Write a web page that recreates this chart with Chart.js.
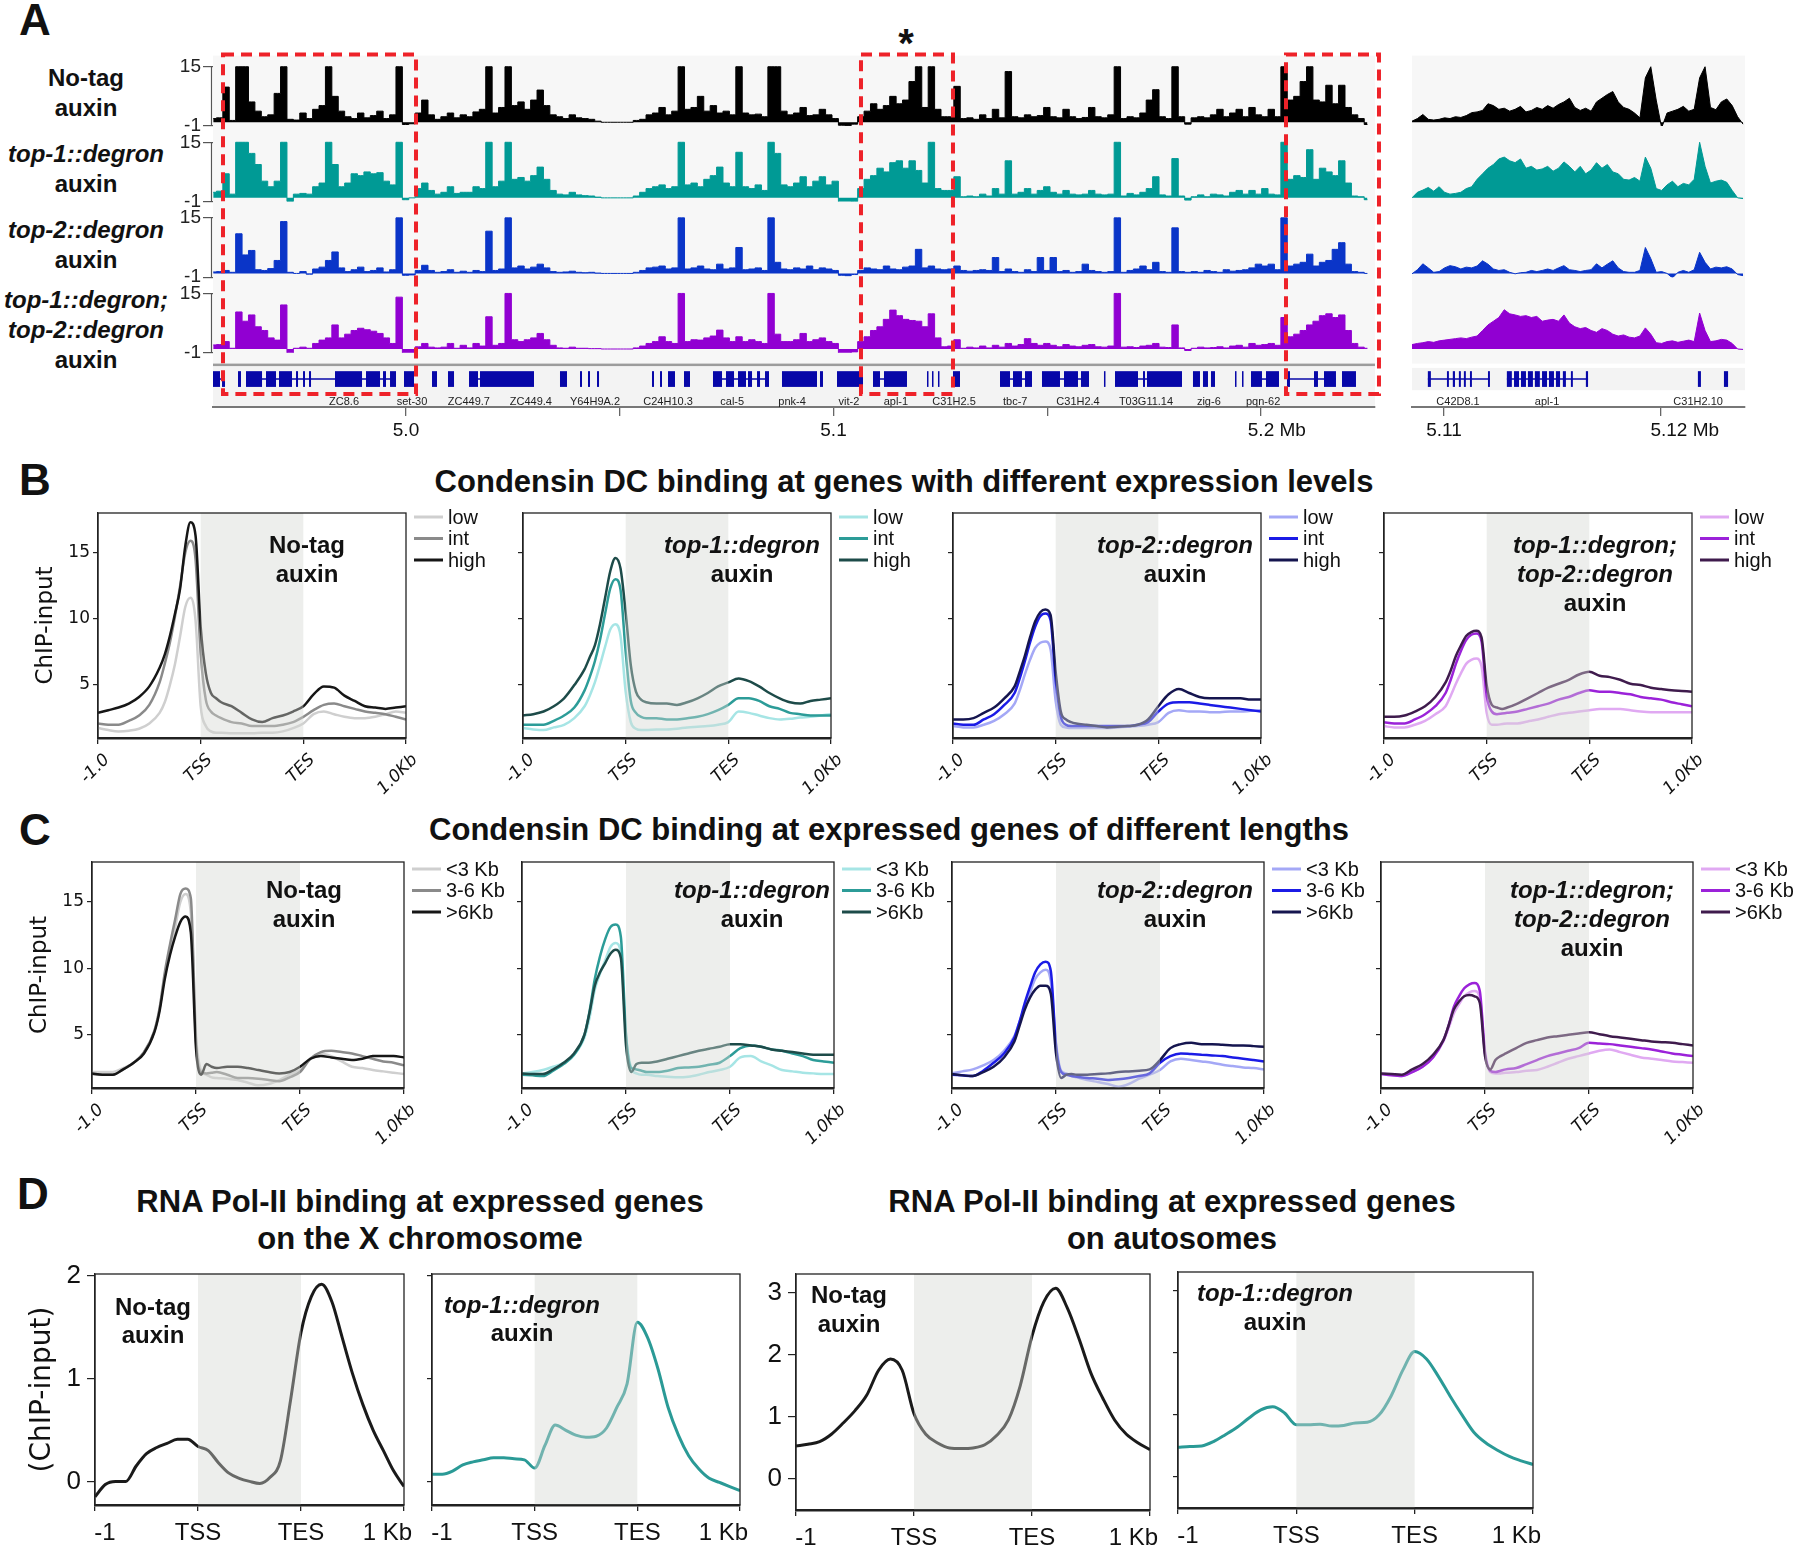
<!DOCTYPE html>
<html>
<head>
<meta charset="utf-8">
<title>Condensin DC and Pol-II profiles</title>
<script src="https://cdn.jsdelivr.net/npm/chart.js@4.4.1/dist/chart.umd.min.js"></script>
<style>
  body { margin: 0; width: 1800px; height: 1545px; position: relative; overflow: hidden; background: #fff;
         font-family: 'Liberation Sans', Arial, sans-serif; color: #111; }
  .panel { position: absolute; font-weight: bold; font-size: 44px; line-height: 44px; }
  .title { position: absolute; font-weight: bold; font-size: 31px; line-height: 37px; text-align: center;
           white-space: nowrap; transform: translateX(-50%); }
  .track { position: absolute; left: 0; width: 172px; text-align: center; font-weight: bold; font-size: 24px;
           line-height: 30px; white-space: nowrap; }
</style>
</head>
<body>
<div class="panel" style="left:19px;top:-2px">A</div>
<div class="panel" style="left:19px;top:458px">B</div>
<div class="panel" style="left:19px;top:808px">C</div>
<div class="panel" style="left:17px;top:1172px">D</div>
<div class="title" style="left:906px;top:23px;font-size:40px;line-height:40px">*</div>

<div class="track" style="top:63px">No-tag<br>auxin</div>
<div class="track" style="top:139px"><i>top-1::degron</i><br>auxin</div>
<div class="track" style="top:215px"><i>top-2::degron</i><br>auxin</div>
<div class="track" style="top:285px"><i>top-1::degron;</i><br><i>top-2::degron</i><br>auxin</div>

<div class="title" style="left:904px;top:463px">Condensin DC binding at genes with different expression levels</div>
<div class="title" style="left:889px;top:811px">Condensin DC binding at expressed genes of different lengths</div>
<div class="title" style="left:420px;top:1183px">RNA Pol-II binding at expressed genes<br>on the X chromosome</div>
<div class="title" style="left:1172px;top:1183px">RNA Pol-II binding at expressed genes<br>on autosomes</div>

<script>
// ==== Panel A: ChIP-seq tracks, one value per bin (Mb) ====
const trackStart = 4.9549;
const trackBin = 0.0015;
const trackTicks = [-1, 15];

const noTagTrack = [1.0,1.2,9.5,0.5,15,15,5.5,3.0,1.5,2.0, 7.8,15,0.8,0.6,2.5,1.0,3.5,4.5,15,7.0,
  3.0,1.5,1.0,2.5,1.2,1.8,3.0,1.0,2.0,15, -0.6,-0.4,2.5,6.0,2.0,0.8,1.5,2.5,1.2,2.0,
  1.5,2.8,3.5,15,2.5,4.0,15,4.5,5.5,3.5, 6.0,8.7,4.5,2.0,1.5,1.0,2.0,1.2,1.0,0.8,
  0.3,0,0,0,0,0,0.5,0.8,2.0,2.5, 4.0,2.0,3.0,15,3.5,4.0,7.0,3.0,4.5,2.5,
  3.0,2.0,15,2.5,2.0,2.2,1.5,15,15,3.0, 2.0,2.5,4.0,1.8,2.0,3.5,2.0,1.0,-0.8,-0.9,
  -0.5,1.5,3.0,5.0,3.5,4.5,7.0,5.0,6.0,11.0, 15,4.0,15,3.5,1.5,1.5,9.7,1.0,1.2,0.8,
  2.0,1.0,3.5,1.2,13.7,1.5,1.2,2.0,1.5,1.8, 4.0,1.5,1.2,3.5,1.5,1.0,1.3,4.0,1.5,1.2,
  2.0,15,1.0,1.5,1.2,2.5,6.0,8.8,1.5,1.0, 15,1.5,-0.5,1.2,1.5,1.2,2.0,3.5,1.5,2.5,
  3.5,1.5,4.0,2.0,1.5,3.5,1.5,15,6.0,7.0, 11.0,15,6.0,5.5,10.0,5.0,10.0,4.0,2.0,1.0,-0.6];
const top1Track = [1.5,1.8,6.5,1.0,15,15,12,9.0,4.5,3.0, 4.5,15,-1.0,1.0,1.2,1.0,3.0,4.0,15,9.0,
  3.0,4.0,6.5,6.0,7.0,6.5,6.8,4.5,3.5,15, -0.5,0.0,2.5,4.0,2.0,1.0,1.5,3.0,1.2,1.5,
  1.5,3.0,2.5,15,3.0,4.5,15,5.0,5.5,4.5, 6.0,8.3,5.0,2.0,1.0,0.8,1.5,0.8,0.6,0.5,
  0.2,0,0,0,0,0,0.5,1.5,2.5,3.0, 3.5,2.5,3.0,15,3.5,4.0,3.0,5.0,6.0,8.3,
  4.0,3.0,12.3,3.0,2.5,3.5,2.0,15,12,3.5, 3.0,4.0,5.7,3.0,4.5,5.7,3.5,4.5,-1.5,-1.8,
  -1.0,2.5,5.0,6.0,8.0,7.0,9.5,10.0,8.0,10.0, 7.4,4.0,15,2.5,2.0,2.0,5.7,0.3,0.5,0.3,
  1.0,0.5,2.5,1.0,10.0,1.0,1.5,2.5,1.0,2.0, 3.0,1.5,1.0,2.0,1.0,0.8,1.0,2.0,1.0,0.8,
  1.0,15,0.5,1.2,0.8,1.5,2.5,5.7,0.8,0.5, 10.6,0.5,-0.6,0.3,0.8,0.3,1.0,0.8,0.5,1.5,
  2.0,1.0,2.0,1.0,2.5,1.0,0.8,15,5.0,6.0, 5.5,13.0,5.0,8.0,7.0,6.0,10.0,4.0,0.5,0.3,-0.5];
const top2Track = [0.4,0.5,0.8,0.3,10.7,5.0,6.2,1.0,0.8,1.3, 3.5,14.0,0.3,0.0,0.5,-0.2,1.2,1.7,3.5,5.8,
  1.5,0.5,1.0,1.7,0.5,0.8,1.5,0.4,1.0,15, -0.5,-0.4,0.8,2.2,0.8,0.3,0.5,1.0,0.3,0.6,
  0.3,0.8,0.5,11.4,0.8,1.2,15,1.5,2.0,1.2, 1.7,2.5,1.5,0.5,0.3,0.4,0.6,0.3,0.2,0.3,
  0.1,0,0,0,0,0,0.3,0.8,1.5,1.7, 2.0,1.2,1.5,15,1.2,1.5,2.0,1.2,1.0,2.5,
  1.2,1.5,7.0,1.0,1.2,1.5,0.8,15,3.0,1.2, 1.0,1.5,1.2,2.0,1.0,1.5,1.2,0.8,-0.5,-0.6,
  -0.3,0.8,1.5,1.2,1.0,2.0,1.2,1.0,1.7,2.0, 6.5,1.5,2.0,1.2,1.0,1.2,2.0,0.8,0.6,0.8,
  1.0,0.8,4.3,0.5,1.2,0.5,0.3,1.0,0.5,4.3, 0.8,4.3,0.5,0.8,0.3,0.5,2.5,0.8,0.5,0.3,
  0.5,15,0.3,0.8,1.2,2.0,1.0,3.0,0.5,0.3, 12.3,0.5,0.3,0.5,0.3,0.8,0.5,0.3,1.0,0.6,
  0.8,1.0,1.5,2.5,2.0,2.5,1.0,15,2.0,2.5, 3.0,5.2,2.0,3.0,3.5,6.5,8.3,2.5,0.5,0.3,0.0];
const doubleTrack = [1.1,1.2,2.0,0.2,10.0,7.5,9.2,6.0,5.0,3.0, 2.4,11.9,-1.5,0.2,0.5,0.2,1.5,2.4,3.0,6.5,
  3.0,4.0,5.0,5.6,5.2,4.8,4.2,3.0,1.5,14.0, -1.5,-1.2,0.6,1.5,0.5,0.3,0.5,1.5,0.2,1.0,
  0.3,1.5,0.8,8.7,1.0,1.5,15,2.5,2.0,2.5, 3.0,4.2,2.5,1.0,0.3,0.2,0.5,0.2,0.2,0.1,
  0.1,0,0,0,0,0,0.3,0.8,1.5,2.0, 3.3,2.0,1.5,15,2.0,2.5,2.4,3.0,3.5,5.1,
  3.0,2.0,3.3,2.0,2.5,2.0,1.5,15,4.0,2.0, 2.0,2.5,4.2,2.0,2.5,3.0,2.0,1.5,-1.5,-1.6,
  -0.8,2.0,3.3,5.0,6.0,8.0,10.5,9.0,8.0,7.7, 7.5,6.0,9.5,3.0,0.6,0.8,2.5,0.2,0.5,0.3,
  0.8,0.3,1.0,0.5,1.5,0.8,1.2,2.8,1.5,1.0, 1.5,1.0,0.6,1.2,0.8,0.6,1.0,1.2,0.6,0.5,
  0.8,15,0.5,0.6,0.4,0.8,1.0,1.5,0.5,0.4, 6.5,0.3,-0.4,0.2,0.5,0.3,0.4,0.6,0.3,0.8,
  1.0,0.5,1.5,1.0,1.2,1.5,1.0,8.5,3.3,4.0, 5.0,6.5,7.5,9.0,9.5,8.5,9.2,5.0,1.5,0.5,0.2];

// zoomed view around apl-1
const zoomStart = 5.10853;
const zoomBin = 0.00025;
const noTagZoom = [0.3,1.0,2.1,0.8,0.6,0.8,1.2,1.0,1.5,1.3, 1.8,2.6,2.8,3.2,5.0,4.5,3.5,3.8,3.0,3.5,
  4.3,2.8,3.2,4.0,3.5,4.5,3.8,4.8,5.5,6.5, 4.0,3.2,3.8,3.0,5.5,6.5,7.5,8.3,5.5,4.0,
  3.5,2.5,1.2,12.0,15,6.0,-1.5,2.5,3.0,3.5, 4.3,3.0,3.5,12.0,15,4.0,3.4,5.5,6.3,4.5, 1.5,-0.5];
const top1Zoom = [0.0,1.5,2.1,2.8,1.8,3.0,1.5,1.0,1.2,1.5, 2.5,3.0,5.0,6.5,8.0,9.0,10.5,11.0,10.0,9.5,
  10.5,8.0,8.5,7.5,7.8,8.5,7.2,8.0,9.7,8.5, 7.0,8.5,6.5,7.5,9.5,8.0,9.0,7.0,6.5,5.0,
  4.8,5.5,4.5,11.0,8.0,2.5,2.0,3.5,4.5,3.0, 3.9,3.5,5.0,15,8.5,4.0,4.5,4.8,4.2,2.0, 0.0,-0.2];
const top2Zoom = [-0.1,1.0,2.6,1.5,0.3,0.5,1.5,2.1,1.8,1.2, 1.7,1.5,2.0,3.4,2.5,1.2,0.8,1.0,0.3,-0.1,
  0.2,0.3,0.8,0.5,0.8,1.2,0.8,1.5,2.1,1.0, 0.8,0.5,0.8,1.0,2.6,1.5,2.5,3.4,1.5,0.5,
  0.3,0.3,0.8,7.0,4.0,0.3,0.5,0.0,-1.2,0.3, 0.8,0.3,1.0,5.7,3.0,1.2,1.7,1.5,1.8,1.2, -0.3,-0.6];
const doubleZoom = [1.2,1.5,1.7,2.0,1.8,2.2,2.4,2.6,2.8,3.0, 2.8,3.2,3.5,5.0,6.5,7.5,8.5,10.6,9.5,9.2,
  8.8,9.0,8.5,8.8,7.5,7.8,8.0,7.5,9.2,7.0, 6.0,5.5,5.8,5.0,4.5,5.5,5.0,4.0,3.5,3.8,
  3.2,3.0,3.5,5.7,4.0,1.7,1.5,2.0,2.2,1.8, 2.1,2.4,2.0,9.7,5.0,2.0,2.2,2.6,2.4,1.5, 0.0,-0.1];

// genome coordinate axis (Mb)
const mbTicks = [5.0, 5.05, 5.1, 5.15, 5.2];
const mbTickLabels = ['5.0', '', '5.1', '', '      5.2 Mb'];
const zoomTicks = [5.11, 5.12];
const zoomTickLabels = ['5.11', '         5.12 Mb'];

// gene models (Mb)
const exonStart = [4.95485,4.95696,4.96070,4.96257,4.96725,4.97029,4.97427,4.97591,4.97731,4.98339,4.99064,4.99462,
  4.99626,4.99953,5.00608,5.00982,5.01474,5.01731,5.03602,5.04070,5.04257,5.04468,5.05754,5.05942,5.06129,5.06503,
  5.07181,5.07485,5.07766,5.08000,5.08211,5.08398,5.08795,5.09684,5.10082,5.10924,5.11181,5.12187,5.12304,5.12444,
  5.12795,5.13895,5.14199,5.14480,5.14877,5.15392,5.15789,5.16327,5.16585,5.17240,5.17333,5.18409,5.18643,5.18830,
  5.19392,5.19556,5.19766,5.20117,5.20608,5.21240,5.21474,5.21895];
const exonEnd = [4.95649,4.95766,4.96140,4.96632,4.96959,4.97333,4.97474,4.97637,4.97778,4.98971,4.99392,4.99532,
  4.99766,5.00187,5.00725,5.01123,5.01684,5.02994,5.03766,5.04117,5.04304,5.04515,5.05801,5.05988,5.06292,5.06643,
  5.07392,5.07673,5.07953,5.08094,5.08281,5.08491,5.09614,5.09754,5.10690,5.11088,5.11719,5.12211,5.12328,5.12468,
  5.12959,5.14129,5.14409,5.14643,5.15298,5.15719,5.15977,5.16351,5.17123,5.17287,5.18152,5.18573,5.18760,5.18924,
  5.19415,5.19579,5.20023,5.20421,5.20678,5.21333,5.21754,5.22222];
const intronStart = [4.95485,4.96257,5.01474,5.07181,5.10924,5.13895,5.14877,5.16585,5.19766,5.20608];
const intronEnd = [4.95766,4.99766,5.02994,5.08491,5.11719,5.14643,5.15977,5.18152,5.20421,5.21754];
const geneNames = ['ZC8.6','set-30','ZC449.7','ZC449.4','Y64H9A.2','C24H10.3','cal-5','pnk-4','vit-2','apl-1',
  'C31H2.5','tbc-7','C31H2.4','T03G11.14','zig-6','pqn-62'];
const genePos = [4.9855,5.0014,5.0147,5.0292,5.0442,5.0613,5.0763,5.0903,5.1036,5.1146,
  5.1282,5.1425,5.1572,5.1731,5.1878,5.2005];

const zoomExonStart = [5.10926,5.11014,5.11041,5.11069,5.11092,5.1112,5.11203,5.1129,5.11323,5.11355,5.11387,5.11419,
  5.11452,5.11484,5.11516,5.11548,5.11585,5.11654,5.1217,5.1229];
const zoomExonEnd = [5.1094,5.11023,5.11051,5.11078,5.11101,5.11129,5.11212,5.11313,5.11346,5.11378,5.1141,5.11442,
  5.11475,5.11507,5.11535,5.11562,5.11594,5.11664,5.12184,5.12309];
const zoomIntronStart = [5.10926, 5.1129];
const zoomIntronEnd = [5.11212, 5.11664];
const zoomGeneNames = ['C42D8.1', 'apl-1', 'C31H2.10'];
const zoomGenePos = [5.11065, 5.11475, 5.12171];

// regions boxed in red (Mb)
const boxStart = [4.95719, 5.10643, 5.20585];
const boxEnd = [5.00234, 5.12795, 5.2276];

// ==== Panels B and C: metagene profiles (x: 0 = -1 kb, 1 = TSS, 2 = TES, 3 = +1 kb) ====
const xGridBC = [0,0.1,0.2,0.3,0.4,0.5,0.6,0.65,0.7,0.75,0.8,0.85,0.9,0.95,1.0,1.05,1.1,1.15,1.2,1.3,1.4,1.5,1.6,1.7,1.8,
  1.9,2.0,2.1,2.2,2.3,2.4,2.5,2.6,2.7,2.8,2.9,3.0];
const xTickPos = [0, 1, 2, 3];
const profileTicksBC = ['-1.0', 'TSS', 'TES', '1.0Kb'];
const profileTicksD = ['   -1', 'TSS', 'TES', '1 Kb     '];
const chipTicksBC = [5, 10, 15];
const exprLabels = ['low', 'int', 'high'];
const lengthLabels = ['<3 Kb', '3-6 Kb', '>6Kb'];

const noTagLow = [1.75,1.6,1.5,1.55,1.7,2.1,2.9,3.7,5.0,6.6,8.7,10.9,11.6,9.9,3.4,1.9,1.5,1.4,1.4,1.35,1.35,1.35,1.4,1.4,1.5,1.75,2.1,2.8,3.0,2.8,2.6,2.5,2.5,2.6,2.8,3.0,2.9];
const noTagInt = [2.1,2.0,2.0,2.3,2.7,3.5,5.2,6.6,8.2,10.2,12.5,15.0,15.9,14.5,7.4,3.9,3.0,2.7,2.5,2.2,2.1,1.9,1.9,1.9,2.0,2.2,2.6,3.1,3.5,3.6,3.4,3.2,3.0,2.9,2.8,2.6,2.4];
const noTagHigh = [2.9,3.1,3.3,3.6,4.1,4.9,6.3,7.3,8.7,10.4,12.3,15.5,17.3,16.3,9.4,5.9,4.4,4.0,3.7,3.4,2.9,2.4,2.2,2.5,2.7,3.0,3.4,4.3,4.9,4.8,4.2,3.8,3.4,3.3,3.2,3.3,3.4];
const top1Low = [1.75,1.65,1.6,1.8,2.0,2.5,3.4,4.2,5.2,6.5,7.9,9.2,9.6,8.7,4.5,2.2,1.7,1.6,1.6,1.65,1.65,1.7,1.8,1.85,1.9,2.0,2.2,3.0,2.9,2.7,2.5,2.4,2.45,2.55,2.6,2.7,2.8];
const top1Int = [2.0,2.0,2.0,2.3,2.7,3.3,4.6,5.6,6.8,8.4,10.4,12.3,13.0,12.2,7.5,3.8,2.9,2.6,2.5,2.5,2.4,2.4,2.5,2.6,2.8,3.1,3.5,4.0,4.0,3.8,3.4,3.2,2.9,2.8,2.7,2.7,2.7];
const top1High = [2.7,2.8,3.0,3.4,4.0,5.0,6.2,7.1,8.0,9.6,11.6,13.6,14.6,13.8,10.5,6.5,4.5,3.9,3.7,3.6,3.6,3.5,3.7,4.0,4.4,4.9,5.2,5.5,5.3,4.9,4.4,4.0,3.7,3.6,3.8,3.9,4.0];
const top2Low = [1.9,1.8,1.8,2.0,2.3,2.8,3.6,4.6,5.8,6.9,7.8,8.2,8.3,7.7,3.8,2.0,1.8,1.75,1.75,1.75,1.75,1.75,1.8,1.85,1.9,2.0,2.2,2.9,3.1,3.0,3.0,2.95,2.95,3.0,3.0,3.05,3.1];
const top2Int = [2.1,2.0,2.0,2.4,2.8,3.5,4.4,5.5,6.8,8.2,9.4,10.2,10.4,9.9,5.4,2.6,2.0,1.9,1.9,1.9,1.9,1.9,1.9,1.9,2.0,2.2,3.0,3.6,3.7,3.7,3.6,3.5,3.4,3.3,3.2,3.1,3.0];
const top2High = [2.4,2.4,2.5,2.9,3.3,4.0,4.9,6.0,7.2,8.6,9.8,10.5,10.7,10.3,6.0,3.0,2.4,2.2,2.1,2.0,1.9,1.8,1.85,1.9,2.0,2.4,3.4,4.3,4.7,4.4,4.1,4.0,4.0,4.0,4.0,3.9,3.9];
const doubleLow = [1.9,1.8,1.8,2.0,2.3,2.8,3.4,4.2,5.1,5.9,6.6,6.9,7.0,6.4,2.9,2.0,2.0,2.05,2.1,2.1,2.25,2.4,2.6,2.8,2.9,3.0,3.1,3.2,3.2,3.2,3.1,3.0,2.95,2.95,2.95,2.95,2.95];
const doubleInt = [2.2,2.1,2.1,2.4,2.8,3.4,4.4,5.4,6.6,7.6,8.4,8.8,8.9,8.3,4.2,3.0,2.8,2.85,2.9,3.0,3.2,3.4,3.6,3.9,4.1,4.4,4.6,4.5,4.5,4.4,4.3,4.1,4.0,3.9,3.7,3.55,3.4];
const doubleHigh = [2.6,2.6,2.7,3.0,3.4,4.1,5.2,6.1,7.2,8.0,8.7,9.0,9.1,8.6,5.0,3.5,3.3,3.2,3.3,3.6,4.0,4.4,4.8,5.1,5.4,5.8,6.0,5.7,5.6,5.4,5.1,5.0,4.8,4.7,4.6,4.55,4.5];

const noTagShort = [2.2,2.2,2.2,2.5,2.9,3.7,5.3,7.0,9.4,11.2,13.1,15.0,15.6,14.2,5.0,2.3,2.0,1.8,1.75,1.7,1.6,1.4,1.2,1.3,1.6,2.0,2.35,3.2,3.6,3.4,3.0,2.6,2.5,2.35,2.25,2.15,2.05];
const noTagMid = [2.05,2.0,2.0,2.4,2.9,3.7,5.3,7.0,9.7,11.8,13.7,15.6,16.0,15.3,4.5,2.2,2.1,2.15,2.2,2.0,1.75,1.75,1.7,1.6,1.5,1.8,2.2,3.2,3.7,3.8,3.7,3.6,3.4,3.2,3.0,2.9,2.7];
const noTagLong = [2.1,2.0,2.0,2.4,2.9,3.6,5.2,6.8,9.2,11.0,12.4,13.5,13.9,12.7,4.0,2.0,2.8,2.6,2.5,2.6,2.6,2.5,2.35,2.2,2.1,2.2,2.6,3.2,3.4,3.3,3.2,3.1,3.2,3.4,3.4,3.4,3.3];
const top1Short = [2.1,2.2,2.35,2.6,2.9,3.5,4.8,6.3,8.4,9.6,10.6,11.6,11.9,11.2,5.0,2.5,2.1,2.0,2.0,1.9,1.85,1.8,1.85,2.0,2.2,2.35,2.6,3.3,3.4,3.0,2.7,2.35,2.25,2.15,2.1,2.05,2.05];
const top1Mid = [2.0,1.95,1.9,2.3,2.8,3.5,5.0,6.8,9.2,10.9,12.2,13.1,13.3,12.4,5.0,2.5,2.4,2.3,2.2,2.2,2.3,2.5,2.55,2.6,2.75,2.9,3.4,4.0,4.2,4.1,3.9,3.8,3.6,3.4,3.1,3.0,2.9];
const top1Long = [2.1,2.05,2.05,2.4,2.9,3.6,5.0,6.7,8.7,9.7,10.4,11.1,11.4,10.8,4.2,2.2,2.8,2.9,2.9,3.0,3.2,3.4,3.6,3.8,3.95,4.1,4.3,4.3,4.2,4.1,3.9,3.8,3.7,3.6,3.5,3.5,3.5];
const top2Short = [2.1,2.25,2.4,2.7,3.1,3.8,4.9,6.0,7.1,8.2,9.2,9.7,9.9,9.0,4.4,2.3,2.1,1.9,1.8,1.6,1.45,1.3,1.1,1.3,1.7,2.0,2.35,3.0,3.2,3.1,3.0,2.9,2.75,2.65,2.55,2.5,2.4];
const top2Mid = [2.0,1.95,1.9,2.3,2.9,3.6,4.8,6.0,7.4,8.6,9.7,10.3,10.5,9.8,4.2,2.2,2.0,1.9,1.85,1.75,1.7,1.6,1.65,1.75,1.9,2.1,2.9,3.4,3.6,3.55,3.5,3.45,3.4,3.3,3.2,3.1,3.0];
const top2Long = [2.05,1.95,1.9,2.2,2.6,3.3,4.5,5.7,6.9,7.8,8.4,8.7,8.7,8.1,3.6,1.75,2.0,2.05,2.0,2.0,2.05,2.1,2.2,2.25,2.3,2.4,3.1,4.0,4.3,4.4,4.3,4.3,4.25,4.2,4.2,4.15,4.1];
const doubleShort = [2.1,2.0,1.9,2.2,2.6,3.3,4.5,5.5,6.6,7.3,7.9,8.2,8.3,7.8,3.8,2.2,2.1,2.1,2.15,2.2,2.3,2.35,2.6,2.9,3.2,3.4,3.6,3.8,3.9,3.7,3.5,3.3,3.2,3.1,3.0,2.95,2.9];
const doubleMid = [2.05,1.95,1.9,2.2,2.6,3.3,4.6,5.7,7.1,7.9,8.5,8.8,8.9,8.3,3.6,2.3,2.2,2.3,2.4,2.5,2.8,3.1,3.4,3.6,3.8,4.0,4.4,4.35,4.3,4.2,4.1,4.0,3.9,3.75,3.6,3.5,3.4];
const doubleLong = [2.1,2.05,2.0,2.4,2.8,3.5,4.6,5.7,6.9,7.5,7.9,8.0,7.9,7.4,3.4,2.4,3.1,3.4,3.6,4.0,4.4,4.6,4.8,4.9,5.0,5.1,5.2,5.05,4.9,4.8,4.7,4.6,4.5,4.45,4.4,4.3,4.2];

// ==== Panel D: RNA Pol-II profiles ====
const xGridD = [0,0.1,0.2,0.3,0.4,0.5,0.6,0.7,0.8,0.9,1.0,1.1,1.2,1.3,1.4,1.5,1.6,1.7,1.8,1.9,2.0,2.1,2.2,2.3,2.4,2.5,2.6,2.7,2.8,2.9,3.0];
const polXNoTag = [-0.15,-0.03,0.0,0.0,0.15,0.27,0.33,0.37,0.41,0.41,0.34,0.3,0.18,0.08,0.03,0.0,-0.02,0.04,0.2,0.8,1.45,1.8,1.92,1.75,1.4,1.05,0.75,0.5,0.3,0.1,-0.05];
const polXTop1 = [0.07,0.07,0.1,0.16,0.19,0.21,0.23,0.23,0.22,0.21,0.13,0.35,0.55,0.5,0.45,0.43,0.44,0.52,0.72,0.95,1.55,1.4,1.1,0.72,0.45,0.25,0.12,0.03,-0.01,-0.05,-0.09];
const polAutoNoTag = [0.53,0.56,0.6,0.72,0.9,1.1,1.35,1.75,1.93,1.75,1.05,0.72,0.58,0.5,0.49,0.5,0.55,0.7,0.95,1.5,2.3,2.85,3.07,2.75,2.25,1.7,1.3,0.95,0.72,0.58,0.47];
const polAutoTop1 = [0.48,0.49,0.5,0.57,0.68,0.8,0.95,1.08,1.13,1.03,0.84,0.84,0.85,0.82,0.83,0.87,0.88,1.0,1.3,1.72,2.02,1.9,1.62,1.3,1.0,0.72,0.55,0.43,0.33,0.26,0.2];
const polTicksX = [0, 1, 2];
const polTicksAuto = [0, 1, 2, 3];

// ---------------------------------------------------------------
const SANS = '"Liberation Sans", Arial, sans-serif';
const DEJAVU = '"DejaVu Sans", sans-serif';

function place(left, top, w, h) {
  const c = document.createElement('canvas');
  c.width = Math.round(w);
  c.height = Math.round(h);
  c.style.cssText = `position:absolute;left:${left}px;top:${top}px;width:${Math.round(w)}px;height:${Math.round(h)}px`;
  document.body.appendChild(c);
  return c;
}

// ---- genome browser panel ----
function genomeDecor(cfg) {
  return {
    id: 'genomeDecor',
    beforeDatasetsDraw(chart) {
      const {ctx, chartArea: a, scales: {g}} = chart;
      ctx.save();
      const bgBottom = g.getPixelForValue(0.8);
      ctx.fillStyle = '#f7f7f7';
      ctx.fillRect(a.left, a.top - 3, a.right - a.left, bgBottom - a.top + 3);
      const r1 = g.getPixelForValue(cfg.rowTop), r2 = g.getPixelForValue(cfg.rowBottom);
      ctx.fillStyle = '#f3f3f3';
      ctx.fillRect(a.left, r1, a.right - a.left, r2 - r1);
      if (cfg.sep) {
        ctx.fillStyle = '#9c9c9c';
        ctx.fillRect(a.left, bgBottom, a.right - a.left, 2.5);
      }
      ctx.restore();
    },
    afterDatasetsDraw(chart) {
      const {ctx, chartArea: a, scales} = chart;
      const {x, g} = scales;
      ctx.save();
      ctx.fillStyle = '#0707a8';
      ctx.strokeStyle = '#0707a8';
      ctx.lineWidth = 1.5;
      const yTop = g.getPixelForValue(0.66), yBot = g.getPixelForValue(0.37), yMid = g.getPixelForValue(0.515);
      cfg.inS.forEach((s, i) => {
        ctx.beginPath();
        ctx.moveTo(x.getPixelForValue(s), yMid);
        ctx.lineTo(x.getPixelForValue(cfg.inE[i]), yMid);
        ctx.stroke();
      });
      cfg.exS.forEach((s, i) => {
        const x1 = x.getPixelForValue(s), x2 = x.getPixelForValue(cfg.exE[i]);
        ctx.fillRect(x1, yTop, Math.max(1.5, x2 - x1), yBot - yTop);
      });
      ctx.fillStyle = '#222';
      ctx.font = '11px ' + SANS;
      ctx.textAlign = 'center';
      ctx.textBaseline = 'middle';
      cfg.names.forEach((n, i) => ctx.fillText(n, x.getPixelForValue(cfg.pos[i]), g.getPixelForValue(0.09)));
      if (cfg.brackets) {
        ctx.strokeStyle = '#555';
        ctx.lineWidth = 1.2;
        ['t1', 't2', 't3', 't4'].forEach(id => {
          const s = scales[id];
          ctx.beginPath();
          ctx.moveTo(a.left - 1.5, s.getPixelForValue(trackTicks[1]));
          ctx.lineTo(a.left - 1.5, s.getPixelForValue(trackTicks[0]));
          ctx.stroke();
        });
      }
      ctx.restore();
    },
    afterDraw(chart) {
      if (!cfg.boxS) return;
      const {ctx, chartArea: a, scales: {x, g}} = chart;
      ctx.save();
      ctx.strokeStyle = '#ee2229';
      ctx.lineWidth = 4;
      ctx.setLineDash([11, 7]);
      const top = a.top - 4, bottom = g.getPixelForValue(0.24);
      cfg.boxS.forEach((s, i) => {
        const x1 = x.getPixelForValue(s), x2 = x.getPixelForValue(cfg.boxE[i]);
        ctx.strokeRect(x1, top, x2 - x1, bottom - top);
      });
      ctx.restore();
    }
  };
}

function genomeChart(cfg) {
  const canvas = place(cfg.cl, cfg.ct, cfg.cw, cfg.ch);
  const colors = ['#000000', '#009a95', '#0a35c8', '#9100d2'];
  const heights = [67.4, 75.6, 75.6, 75.6];
  const maxes = [17.2, 19.4, 19.4, 19.4];
  const scales = {
    x: {
      type: 'linear', min: cfg.min, max: cfg.max,
      afterBuildTicks: s => { s.ticks = cfg.ticks.map(v => ({value: v})); },
      afterFit: s => { s.height = 33; },
      ticks: {autoSkip: false, maxRotation: 0, minRotation: 0, padding: 3, color: '#111',
              font: {family: SANS, size: 19}, callback: v => cfg.tickLabels[cfg.ticks.indexOf(v)]},
      grid: {drawOnChartArea: false, tickLength: 9, color: '#666', lineWidth: 1.3},
      border: {color: '#777', width: 2}
    }
  };
  ['t1', 't2', 't3', 't4'].forEach((id, k) => {
    scales[id] = {
      type: 'linear', position: 'left', stack: 'tracks', stackWeight: heights[k], weight: 9 - k,
      min: trackTicks[0], max: maxes[k],
      afterBuildTicks: s => { s.ticks = trackTicks.map(v => ({value: v})); },
      afterFit: s => { s.width = cfg.yw; },
      ticks: {display: cfg.labels, padding: 2, color: '#222', font: {family: SANS, size: 19}},
      grid: {display: cfg.labels, drawOnChartArea: false, tickLength: 10, color: '#555', lineWidth: 1.2},
      border: {display: false}
    };
  });
  scales.g = {
    type: 'linear', position: 'left', stack: 'tracks', stackWeight: 54.3, weight: 4, min: 0, max: 1,
    afterFit: s => { s.width = cfg.yw; },
    ticks: {display: false}, grid: {display: false}, border: {display: false}
  };
  new Chart(canvas, {
    type: 'line',
    data: {
      datasets: cfg.tracks.map((vals, k) => ({
        data: vals.map((v, i) => ({x: cfg.start + i * cfg.bin, y: v})),
        yAxisID: 't' + (k + 1),
        borderColor: colors[k], backgroundColor: colors[k],
        borderWidth: 1, pointRadius: 0, fill: 'origin',
        stepped: cfg.stepped ? 'middle' : false, tension: 0
      }))
    },
    options: {
      responsive: false, animation: false, devicePixelRatio: 1,
      layout: {padding: {left: 0, top: 28.6, right: 25, bottom: 0}},
      plugins: {legend: {display: false}, tooltip: {enabled: false}},
      scales
    },
    plugins: [genomeDecor(cfg)]
  });
}

genomeChart({
  cl: 150, ct: 30, cw: 1250, ch: 410, yw: 63, labels: true, stepped: true,
  min: 4.95485, max: 5.22667, ticks: mbTicks, tickLabels: mbTickLabels,
  start: trackStart, bin: trackBin, tracks: [noTagTrack, top1Track, top2Track, doubleTrack],
  exS: exonStart, exE: exonEnd, inS: intronStart, inE: intronEnd, names: geneNames, pos: genePos,
  rowTop: 0.77, rowBottom: 0.02, sep: true, brackets: true, boxS: boxStart, boxE: boxEnd
});
genomeChart({
  cl: 1400, ct: 30, cw: 370, ch: 410, yw: 12, labels: false, stepped: false,
  min: 5.10853, max: 5.12387, ticks: zoomTicks, tickLabels: zoomTickLabels,
  start: zoomStart, bin: zoomBin, tracks: [noTagZoom, top1Zoom, top2Zoom, doubleZoom],
  exS: zoomExonStart, exE: zoomExonEnd, inS: zoomIntronStart, inE: zoomIntronEnd,
  names: zoomGeneNames, pos: zoomGenePos, rowTop: 0.72, rowBottom: 0.31, sep: false, brackets: false
});

// ---- metagene profile panels ----
function profileDecor(p) {
  return {
    id: 'profileDecor',
    afterDatasetsDraw(chart) {
      const {ctx, chartArea: a, scales: {x}} = chart;
      const x1 = x.getPixelForValue(1), x2 = x.getPixelForValue(2);
      ctx.save();
      ctx.fillStyle = 'rgba(212,214,210,0.42)';
      ctx.fillRect(x1, a.top, x2 - x1, a.bottom - a.top);
      ctx.strokeStyle = '#222';
      ctx.lineWidth = 1.3;
      ctx.strokeRect(a.left, a.top, a.right - a.left, a.bottom - a.top);
      ctx.fillStyle = '#111';
      ctx.textAlign = 'center';
      ctx.textBaseline = 'middle';
      p.text.forEach((t, i) => {
        ctx.font = (t.it ? 'italic ' : '') + 'bold 24px ' + SANS;
        ctx.fillText(t.s, a.left + p.tx, a.top + p.ty + i * p.tg);
      });
      if (p.labels) {
        ctx.font = '20px ' + SANS;
        ctx.textAlign = 'left';
        chart.data.datasets.forEach((d, i) => {
          const y = a.top + p.ly + i * 21.5;
          ctx.strokeStyle = d.borderColor;
          ctx.lineWidth = 3;
          ctx.beginPath();
          ctx.moveTo(a.right + 8, y);
          ctx.lineTo(a.right + 37, y);
          ctx.stroke();
          ctx.fillStyle = '#111';
          ctx.fillText(d.label, a.right + 42, y + 1);
        });
      }
      ctx.restore();
    }
  };
}

function profileChart(p) {
  const padL = 70, padT = 30, padR = 110, padB = p.padB;
  const canvas = place(p.left - padL, p.top - padT, p.w + padL + padR, p.h + padT + padB);
  new Chart(canvas, {
    type: 'line',
    data: {
      datasets: p.series.map((vals, i) => ({
        label: p.labels ? p.labels[i] : '',
        data: p.xs.map((x, k) => ({x, y: vals[k]})),
        borderColor: p.colors[i], borderWidth: p.lw, pointRadius: 0, fill: false,
        cubicInterpolationMode: 'monotone', order: p.series.length - i
      }))
    },
    options: {
      responsive: false, animation: false, devicePixelRatio: 1,
      layout: {padding: {left: 0, top: padT, right: padR, bottom: 0}},
      plugins: {legend: {display: false}, tooltip: {enabled: false}},
      scales: {
        x: {
          type: 'linear', min: 0, max: 3,
          afterBuildTicks: s => { s.ticks = xTickPos.map(v => ({value: v})); },
          afterFit: s => { s.height = padB; },
          ticks: {autoSkip: false, minRotation: p.rot, maxRotation: p.rot, padding: p.xPad, color: '#111',
                  labelOffset: p.xShift, font: p.xFont, callback: v => p.xLabels[xTickPos.indexOf(v)]},
          grid: {drawOnChartArea: false, tickLength: 6, color: '#222', lineWidth: 1.3},
          border: {color: '#222', width: 2.5}
        },
        y: {
          type: 'linear', min: p.yMin, max: p.yMax,
          afterBuildTicks: s => { s.ticks = p.yTicks.map(v => ({value: v})); },
          afterFit: s => { s.width = padL; },
          ticks: {padding: p.yPad, color: '#111', font: p.yFont, callback: v => (p.showY ? String(v) : '')},
          title: {display: !!p.yTitle, text: p.yTitle || '', color: '#111', font: p.titleFont,
                  padding: {top: p.titlePad, bottom: 0}},
          grid: {drawOnChartArea: false, tickLength: p.yTick, color: '#222', lineWidth: 1.2},
          border: {color: '#222', width: 1.3}
        }
      }
    },
    plugins: [profileDecor(p)]
  });
}

const greys = ['#cfcfcf', '#8a8a8a', '#161616'];
const teals = ['#a6e5e5', '#2c9c98', '#1d4b49'];
const blues = ['#a4a8f6', '#1b1be6', '#15154f'];
const purples = ['#e0a9f2', '#9b22d9', '#3f1b4d'];
const bcCommon = {
  xs: xGridBC, yTicks: chipTicksBC, yMin: 1, yMax: 18, lw: 2.5, rot: 45, xPad: 6, xShift: 9, padB: 80,
  xLabels: profileTicksBC, xFont: {family: DEJAVU, size: 17, style: 'italic'},
  yFont: {family: DEJAVU, size: 17}, titleFont: {family: DEJAVU, size: 23}, titlePad: 4, yPad: 3, yTick: 5, tg: 29
};
const nameText = [
  [{s: 'No-tag'}, {s: 'auxin'}],
  [{s: 'top-1::degron', it: 1}, {s: 'auxin'}],
  [{s: 'top-2::degron', it: 1}, {s: 'auxin'}],
  [{s: 'top-1::degron;', it: 1}, {s: 'top-2::degron', it: 1}, {s: 'auxin'}]
];

// panel B
[[98, [noTagLow, noTagInt, noTagHigh], greys, 209],
 [523, [top1Low, top1Int, top1High], teals, 219],
 [953, [top2Low, top2Int, top2High], blues, 222],
 [1384, [doubleLow, doubleInt, doubleHigh], purples, 211]].forEach((r, k) => {
  profileChart(Object.assign({}, bcCommon, {
    left: r[0], top: 513, w: 308, h: 225, series: r[1], colors: r[2], labels: exprLabels,
    text: nameText[k], tx: r[3], ty: 33, ly: 4, showY: k === 0, yTitle: k === 0 ? 'ChIP-input' : ''
  }));
});

// panel C
[[92, [noTagShort, noTagMid, noTagLong], greys, 212],
 [522, [top1Short, top1Mid, top1Long], teals, 230],
 [952, [top2Short, top2Mid, top2Long], blues, 223],
 [1381, [doubleShort, doubleMid, doubleLong], purples, 211]].forEach((r, k) => {
  profileChart(Object.assign({}, bcCommon, {
    left: r[0], top: 862, w: 312, h: 226, series: r[1], colors: r[2], labels: lengthLabels,
    text: nameText[k], tx: r[3], ty: 29, ly: 7, showY: k === 0, yTitle: k === 0 ? 'ChIP-input' : ''
  }));
});

// panel D
const dCommon = {
  xs: xGridD, lw: 3, rot: 0, xPad: 8, xShift: 0, padB: 62, xLabels: profileTicksD,
  xFont: {family: SANS, size: 24}, yFont: {family: SANS, size: 26}, titleFont: {family: DEJAVU, size: 28},
  titlePad: 1, yPad: 6, labels: null, tg: 28
};
profileChart(Object.assign({}, dCommon, {
  left: 94.5, top: 1274, w: 308.5, h: 231, series: [polXNoTag], colors: ['#1a1a1a'],
  yMin: -0.23, yMax: 2.02, yTicks: polTicksX, showY: true, yTick: 8, yTitle: '(ChIP-input)',
  text: nameText[0], tx: 58, ty: 34
}));
profileChart(Object.assign({}, dCommon, {
  left: 432, top: 1274, w: 308, h: 231, series: [polXTop1], colors: ['#2a9a96'],
  yMin: -0.23, yMax: 2.02, yTicks: polTicksX, showY: false, yTick: 5,
  text: nameText[1], tx: 90, ty: 32
}));
profileChart(Object.assign({}, dCommon, {
  left: 796, top: 1274, w: 354, h: 236, series: [polAutoNoTag], colors: ['#1a1a1a'],
  yMin: -0.5, yMax: 3.3, yTicks: polTicksAuto, showY: true, yTick: 8,
  text: nameText[0], tx: 53, ty: 22, tg: 29
}));
profileChart(Object.assign({}, dCommon, {
  left: 1178, top: 1272, w: 355, h: 236, series: [polAutoTop1], colors: ['#2a9a96'],
  yMin: -0.5, yMax: 3.3, yTicks: polTicksAuto, showY: false, yTick: 5,
  text: nameText[1], tx: 97, ty: 22, tg: 29
}));
</script>
</body>
</html>
